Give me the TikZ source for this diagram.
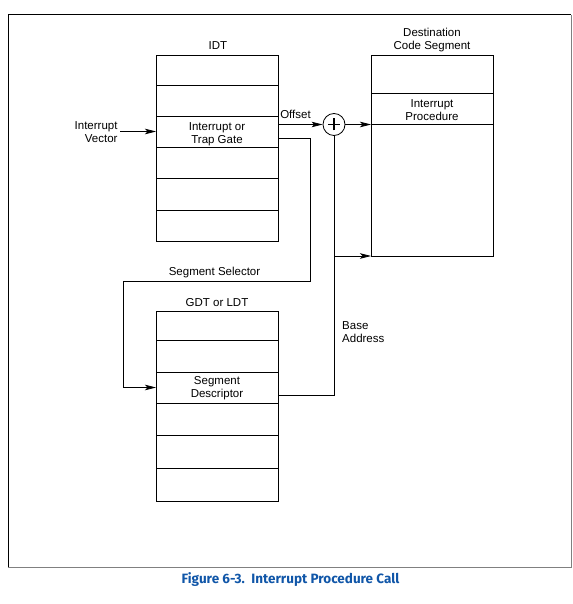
\documentclass[tikz,border=0pt]{standalone}
\usepackage{fontspec}
\setmainfont{Liberation Sans}
\newfontfamily\capfont{Fira Sans}
\usetikzlibrary{arrows.meta}
\definecolor{intelblue}{RGB}{16,86,168}
\begin{document}
\begin{tikzpicture}[x=1pt,y=-1pt,
  every node/.style={font=\fontsize{11.5}{13}\selectfont},
  row/.style={draw, line width=0.8pt, minimum width=122pt, inner sep=0pt, outer sep=0pt, align=center},
  conn/.style={line width=0.8pt},
  arr/.style={conn, -{Stealth[length=11pt,width=5.5pt,inset=2.5pt]}},
  lbl/.style={align=center, inner sep=0pt}]
\useasboundingbox (0,0) rectangle (572,604);
% frame
\draw[line width=1pt] (8,567) -- (8,15) -- (571,15);
\draw[line width=1pt, gray] (571,15) -- (571,567) -- (8,567);

% IDT
\node[lbl] (idtlbl) at (218,46) {IDT};
\node[row, minimum height=30pt] (idt1) at (217,70) {};
\node[row, minimum height=31pt] (idt2) at (217,100.5) {};
\node[row, minimum height=31pt, label={[lbl, yshift=-2.5pt]center:{Interrupt or\\Trap Gate}}] (idt3) at (217,131.5) {};
\node[row, minimum height=31pt] (idt4) at (217,162.5) {};
\node[row, minimum height=32pt] (idt5) at (217,194) {};
\node[row, minimum height=31pt] (idt6) at (217,225.5) {};

% GDT
\node[lbl] (gdtlbl) at (217,303) {GDT or LDT};
\node[row, minimum height=29pt] (gdt1) at (217,325.5) {};
\node[row, minimum height=32pt] (gdt2) at (217,356) {};
\node[row, minimum height=31pt, label={[lbl, yshift=-1pt]center:{Segment\\Descriptor}}] (gdt3) at (217,387.5) {};
\node[row, minimum height=32pt] (gdt4) at (217,419) {};
\node[row, minimum height=33pt] (gdt5) at (217,451.5) {};
\node[row, minimum height=33pt] (gdt6) at (217,484.5) {};

% Destination code segment
\node[lbl] (dstlbl) at (432,40) {Destination\\Code Segment};
\node[row, minimum height=38pt] (dtop) at (432,74) {};
\node[row, minimum height=31pt, label={[lbl, yshift=-1.5pt]center:{Interrupt\\Procedure}}] (dproc) at (432,108.5) {};
\node[row, minimum height=132pt] (dbot) at (432,190) {};

% adder
\node[draw, circle, line width=0.8pt, minimum size=22pt, inner sep=0pt] (plus) at (334,124.5) {};
\draw[line width=1.8pt] ([xshift=-6pt]plus.center) -- ([xshift=6pt]plus.center);
\draw[line width=1.8pt] ([yshift=-6pt]plus.center) -- ([yshift=6pt]plus.center);

% labels
\node[lbl, anchor=east, align=right, outer sep=2.5pt] (iv) at (120,132) {Interrupt\\Vector};
\node[lbl] (offlbl) at (295.5,114.5) {Offset};
\node[lbl] (sellbl) at (214.5,273) {Segment Selector};
\node[lbl, anchor=west, align=left] (baselbl) at (342,332.5) {Base\\Address};

\coordinate (sel1) at (310,281);
\coordinate (sel2) at (123,281);

% connectors
\draw[arr] (idt3.west -| iv.east) -- (idt3.west);
\draw[arr] (idt3.east |- plus) -- (plus.west);
\draw[arr] (plus.east) -- (plus -| dbot.west);
\draw[arr] ([yshift=-7pt]idt3.east) -| (sel1) -- (sel2) |- (gdt3.west);
\draw[conn] ([yshift=-7.5pt]gdt3.east) -| (plus.south);
\draw[arr] (plus |- dbot.south west) -- (dbot.south west);

% caption
\node[lbl, font=\capfont\bfseries\fontsize{13.5}{15}\selectfont, text=intelblue] (cap) at (290.5,580) {Figure 6-3.\ \ Interrupt Procedure Call};
\end{tikzpicture}
\end{document}
